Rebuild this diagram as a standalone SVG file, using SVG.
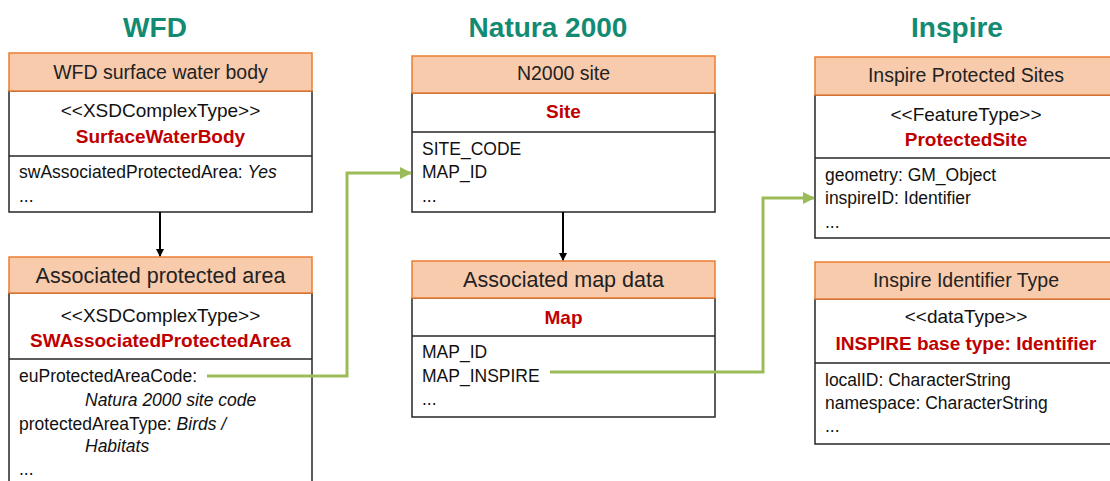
<svg xmlns="http://www.w3.org/2000/svg" width="1110" height="481" viewBox="0 0 1110 481">
<style>
.title{font-family:"Liberation Sans",Arial,sans-serif;font-weight:bold;font-size:28px;fill:#138A72;text-anchor:middle}
.hdr{fill:#F8CBAD;stroke:#ED7D31;stroke-width:1.5}
.box{fill:#FFFFFF;stroke:#262626;stroke-width:1.5}
.ht{font-family:"Liberation Sans",Arial,sans-serif;font-size:19.5px;fill:#222;text-anchor:middle}
.ha{font-family:"Liberation Sans",Arial,sans-serif;font-size:21.5px;fill:#222;text-anchor:middle}
.st{font-family:"Liberation Sans",Arial,sans-serif;font-size:19px;fill:#111;text-anchor:middle}
.cls{font-family:"Liberation Sans",Arial,sans-serif;font-size:19px;font-weight:bold;fill:#C00000;text-anchor:middle}
.at{font-family:"Liberation Sans",Arial,sans-serif;font-size:17.5px;fill:#111}
.it{font-style:italic}
.sep{stroke:#262626;stroke-width:1.5}
.blk{stroke:#000;stroke-width:2;fill:none}
.grn{stroke:#9BBB59;stroke-width:3;fill:none}
</style>
<defs>
<marker id="ab" markerWidth="8" markerHeight="8" refX="7" refY="4" orient="auto" markerUnits="userSpaceOnUse"><path d="M0,0 L8,4 L0,8 Z" fill="#000"/></marker>
<marker id="ag" markerWidth="12" markerHeight="12" refX="11" refY="6" orient="auto" markerUnits="userSpaceOnUse"><path d="M0,0 L12,6 L0,12 Z" fill="#9BBB59"/></marker>
</defs>

<text class="title" x="155" y="37">WFD</text>
<text class="title" x="548" y="37">Natura 2000</text>
<text class="title" x="957" y="37">Inspire</text>

<g id="wfd-surface-water-body">
<rect class="box" x="9" y="91" width="303" height="121"/>
<line class="sep" x1="9" y1="156" x2="312" y2="156"/>
<rect class="hdr" x="9" y="53" width="303" height="38"/>
<text class="ht" x="160.5" y="79">WFD surface water body</text>
<text class="st" x="160.5" y="117">&lt;&lt;XSDComplexType&gt;&gt;</text>
<text class="cls" x="160.5" y="143">SurfaceWaterBody</text>
<text class="at" x="19" y="178">swAssociatedProtectedArea: <tspan class="it">Yes</tspan></text>
<text class="at" x="19" y="202">...</text>
</g>

<g id="associated-protected-area">
<rect class="box" x="9" y="293" width="303" height="200"/>
<line class="sep" x1="9" y1="359" x2="312" y2="359"/>
<rect class="hdr" x="9" y="257" width="303" height="36"/>
<text class="ha" x="160.5" y="283">Associated protected area</text>
<text class="st" x="160.5" y="322">&lt;&lt;XSDComplexType&gt;&gt;</text>
<text class="cls" x="160.5" y="347">SWAssociatedProtectedArea</text>
<text class="at" x="19" y="382">euProtectedAreaCode:</text>
<text class="at it" x="85" y="406">Natura 2000 site code</text>
<text class="at" x="19" y="430">protectedAreaType: <tspan class="it">Birds /</tspan></text>
<text class="at it" x="85" y="452">Habitats</text>
<text class="at" x="19" y="475">...</text>
</g>

<g id="n2000-site">
<rect class="box" x="412" y="93" width="303" height="119"/>
<line class="sep" x1="412" y1="132" x2="715" y2="132"/>
<rect class="hdr" x="412" y="56" width="303" height="37"/>
<text class="ht" x="563.5" y="80">N2000 site</text>
<text class="cls" x="563.5" y="118">Site</text>
<text class="at" x="422" y="155">SITE_CODE</text>
<text class="at" x="422" y="178">MAP_ID</text>
<text class="at" x="422" y="202">...</text>
</g>

<g id="associated-map-data">
<rect class="box" x="412" y="298" width="303" height="119"/>
<line class="sep" x1="412" y1="336" x2="715" y2="336"/>
<rect class="hdr" x="412" y="261" width="303" height="37"/>
<text class="ha" x="563.5" y="287">Associated map data</text>
<text class="cls" x="563.5" y="324">Map</text>
<text class="at" x="422" y="358">MAP_ID</text>
<text class="at" x="422" y="382">MAP_INSPIRE</text>
<text class="at" x="422" y="405">...</text>
</g>

<g id="inspire-protected-sites">
<rect class="box" x="815" y="95" width="305" height="143"/>
<line class="sep" x1="815" y1="158" x2="1120" y2="158"/>
<rect class="hdr" x="815" y="57" width="305" height="38"/>
<text class="ht" x="966" y="82">Inspire Protected Sites</text>
<text class="st" x="966" y="121">&lt;&lt;FeatureType&gt;&gt;</text>
<text class="cls" x="966" y="146">ProtectedSite</text>
<text class="at" x="825" y="181">geometry: GM_Object</text>
<text class="at" x="825" y="204">inspireID: Identifier</text>
<text class="at" x="825" y="228">...</text>
</g>

<g id="inspire-identifier-type">
<rect class="box" x="815" y="299" width="305" height="145"/>
<line class="sep" x1="815" y1="363" x2="1120" y2="363"/>
<rect class="hdr" x="815" y="262" width="305" height="37"/>
<text class="ht" x="966" y="287">Inspire Identifier Type</text>
<text class="st" x="966" y="323">&lt;&lt;dataType&gt;&gt;</text>
<text class="cls" x="966" y="350">INSPIRE base type: Identifier</text>
<text class="at" x="825" y="386">localID: CharacterString</text>
<text class="at" x="825" y="409">namespace: CharacterString</text>
<text class="at" x="825" y="432">...</text>
</g>

<g id="connectors">
<line class="blk" x1="160" y1="212" x2="160" y2="256" marker-end="url(#ab)"/>
<line class="blk" x1="563" y1="212" x2="563" y2="260" marker-end="url(#ab)"/>
<polyline class="grn" points="207,376 347,376 347,173 411,173" marker-end="url(#ag)"/>
<polyline class="grn" points="550,372 763,372 763,198 814,198" marker-end="url(#ag)"/>
</g>
</svg>
